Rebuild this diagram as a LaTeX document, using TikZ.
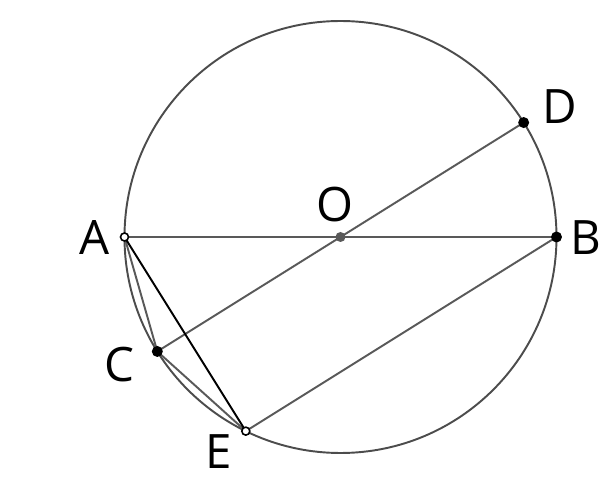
\documentclass[tikz,border=0pt]{standalone}
\usepackage{fontspec}
\setmainfont{Open Sans}
\usepackage{tikz}

\begin{document}
\begin{tikzpicture}[line width=1.1pt,
  chord/.style={draw=black!65},
  dot/.style={circle,fill=black,inner sep=0pt,minimum size=2.2mm},
  hollow/.style={circle,draw=black,fill=white,line width=0.9pt,inner sep=0pt,minimum size=1.6mm},
  lbl/.style={font=\fontsize{27}{27}\selectfont}]
\useasboundingbox (-6.81,-4.9) rectangle (5.39,4.74);

\draw [black!70] (0,0) circle (4.32);

\coordinate (O) at (0,0);
\coordinate (A) at (180:4.32);
\coordinate (B) at (0:4.32);
\coordinate (D) at (32:4.32);
\coordinate (C) at (212:4.32);
\coordinate (E) at (244:4.32);

\draw [chord] (A) -- (B);
\draw [chord] (C) -- (D);
\draw [chord] (E) -- (B);
\draw [chord] (A) -- (C) -- (E);
\draw [black] (A) -- (E);

% points
\node [dot,fill=black!65,minimum size=2mm] (o) at (O) {};
\node [dot] (b) at (B) {};
\node [dot] (d) at (D) {};
\node [dot] (c) at (C) {};
\node [hollow] (a) at (A) {};
\node [hollow] (e) at (E) {};

% labels
\node [lbl] (lA) at (-4.91,0) {A};
\node [lbl] (lB) at (4.91,-0.02) {B};
\node [lbl] (lD) at (4.39,2.6) {D};
\node [lbl] (lO) at (-0.11,0.64) {O};
\node [lbl] (lC) at (-4.43,-2.56) {C};
\node [lbl] (lE) at (-2.43,-4.3) {E};
\end{tikzpicture}
\end{document}
